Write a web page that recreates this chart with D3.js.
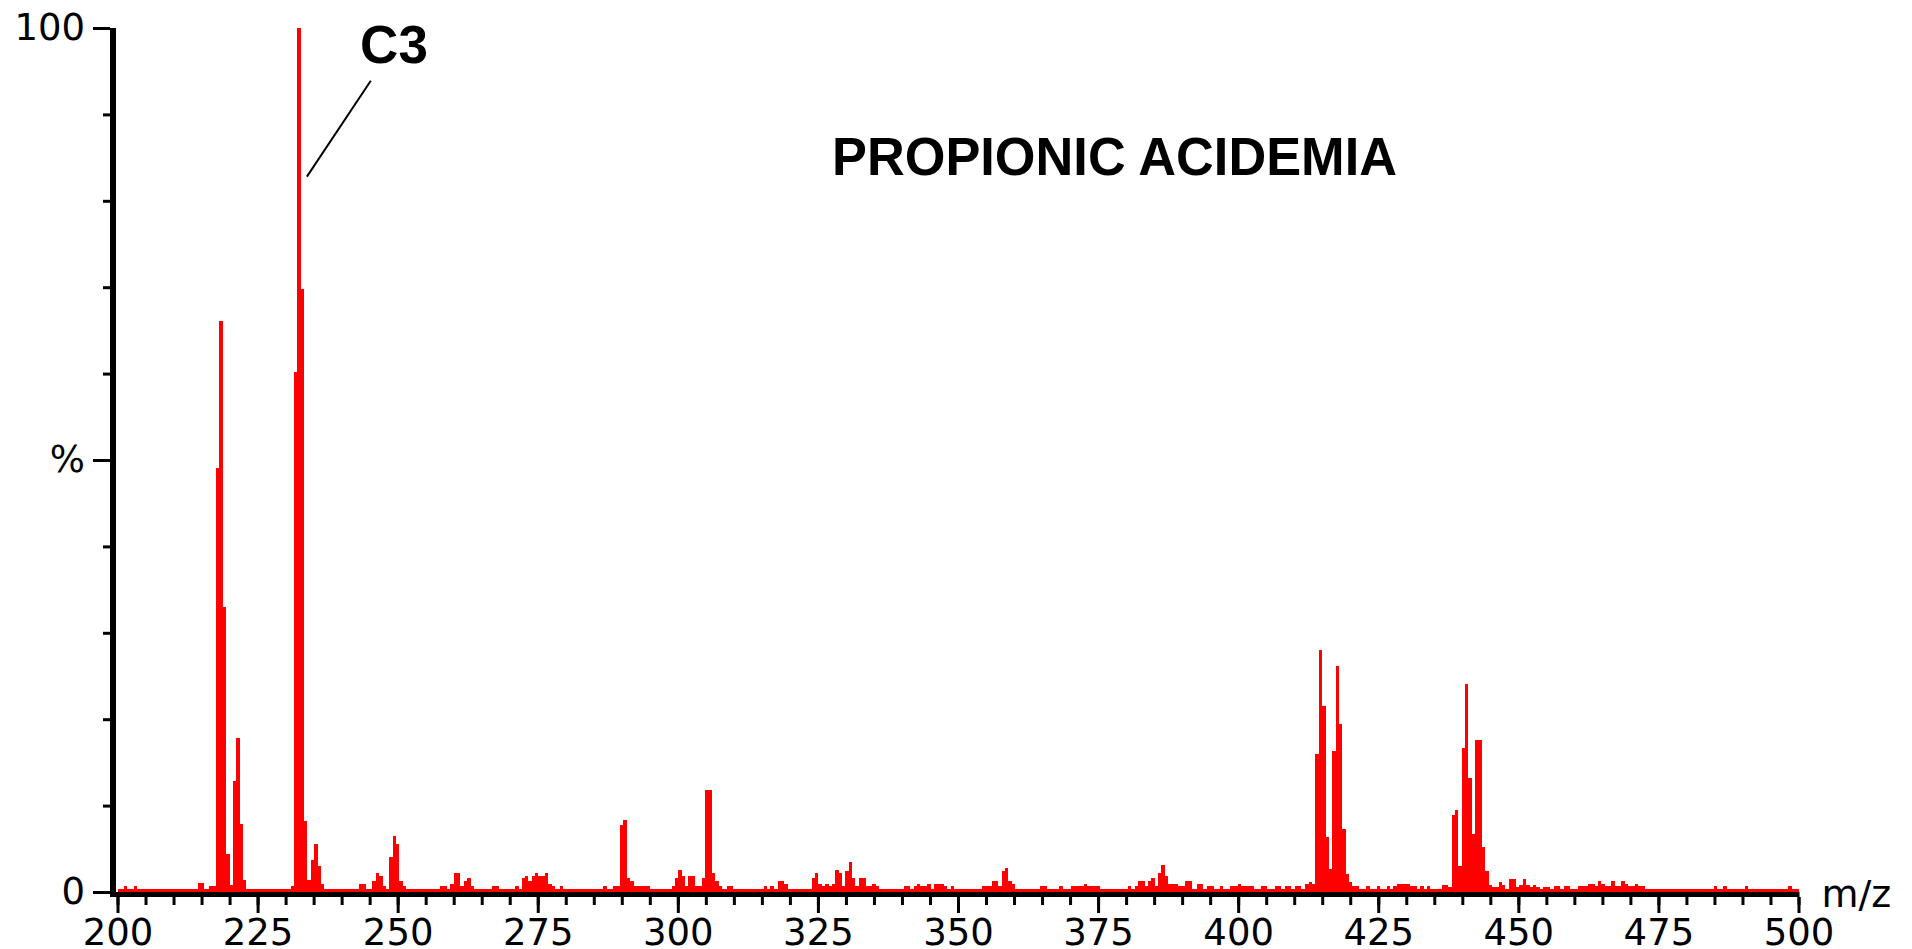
<!DOCTYPE html>
<html>
<head>
<meta charset="utf-8">
<script src="https://cdn.jsdelivr.net/npm/d3@7"></script>
<style>
  body { margin: 0; background: #fff; }
</style>
</head>
<body>
<spectrum-graph></spectrum-graph>
<script>
// Spectrum bins (left edge m/z) and their relative intensity (%)
const mzValues = [
  201.1, 202.9, 214.3, 214.9, 216.4, 217.0, 217.6, 218.2, 218.8, 219.4, 220.0, 220.6, 221.2, 221.8, 222.4,
  230.9, 231.5, 232.1, 232.7, 233.3, 233.9, 234.5, 235.1, 235.7, 236.3,
  243.1, 243.7, 245.5, 246.1, 246.7, 247.3, 248.5, 249.1, 249.7, 250.3, 250.9,
  257.6, 258.2, 259.4, 260.0, 260.6, 261.2, 261.8, 262.4, 263.0,
  266.8, 267.4, 271.0, 272.1, 272.7, 273.3, 273.9, 274.5, 275.1, 275.7, 276.3, 276.9, 277.5, 278.9,
  286.7, 288.5, 289.1, 289.7, 290.3, 290.9, 291.5, 292.1, 292.7, 293.3, 293.9, 294.5,
  298.9, 299.5, 300.1, 300.7, 301.3, 301.9, 302.5, 303.1, 303.7, 304.3, 304.9, 305.5, 306.1, 306.7, 307.3, 308.7, 309.3,
  315.3, 316.5, 317.8, 318.4, 319.0, 323.9, 324.5, 325.1, 325.7, 326.3, 326.9, 327.5, 328.1, 328.7, 329.3, 329.9, 330.5, 331.1, 331.7, 332.3, 332.9, 333.5, 334.1, 334.7, 335.3,
  340.3, 340.9, 342.1, 342.7, 343.3, 343.9, 344.5, 345.7, 346.3, 346.9, 347.5, 348.7, 354.2, 354.8, 355.4, 356.0, 356.6, 357.2, 357.8, 358.4, 359.0, 359.6,
  364.6, 365.2, 368.1, 370.1, 370.7, 371.3, 371.8, 372.4, 373.0, 373.6, 374.2, 374.8,
  380.3, 381.5, 382.1, 382.7, 383.3, 383.9, 384.5, 385.1, 385.7, 386.3, 386.9, 387.5, 388.1, 388.7, 389.3, 389.9, 390.5, 391.1, 392.6, 393.2, 394.4, 395.0, 396.7, 398.6, 399.3, 399.9, 400.5, 401.1, 401.7, 402.3, 404.0, 404.6, 406.5, 407.1, 408.3, 408.9, 410.1, 410.7,
  412.0, 412.6, 413.2, 413.8, 414.4, 415.0, 415.6, 416.2, 416.8, 417.4, 418.0, 418.6, 419.2, 419.8, 420.4, 421.0, 422.9, 424.7, 426.5, 427.7, 428.3, 428.9, 429.5, 430.1, 430.7, 431.3, 432.5, 433.7,
  436.3, 436.9, 437.5, 438.1, 438.7, 439.3, 439.9, 440.5, 441.1, 441.7, 442.3, 442.9, 443.5, 444.1, 444.7, 445.3, 445.9, 446.5, 447.1, 448.4, 449.0, 449.6, 450.2, 450.8, 451.4, 452.0, 452.6, 453.2, 454.4, 455.0,
  456.3, 456.9, 458.1, 458.7, 460.6, 461.2, 461.8, 462.4, 463.0, 463.6, 464.2, 464.8, 465.4, 466.0, 466.6, 467.2, 467.8, 468.4, 469.0, 469.6, 470.2, 470.8, 471.4, 472.0, 484.9, 486.6, 490.4, 498.2
];

const intensityValues = [
  0.7, 0.7, 1.0, 1.0, 0.7, 0.7, 49.1, 66.1, 33.0, 4.4, 0.8, 12.9, 17.8, 7.9, 1.4,
  0.7, 60.2, 100, 69.8, 8.2, 1.4, 3.7, 5.6, 3.0, 0.9,
  0.9, 0.9, 1.3, 2.2, 1.9, 0.7, 4.0, 6.5, 5.5, 1.3, 0.7,
  0.7, 0.7, 0.9, 2.2, 2.2, 0.7, 1.3, 1.6, 0.7,
  0.7, 0.7, 0.7, 1.6, 1.9, 1.3, 1.9, 2.2, 1.9, 1.9, 2.2, 0.9, 0.7, 0.7,
  0.7, 0.7, 0.7, 7.7, 8.3, 1.6, 1.3, 0.7, 0.7, 0.7, 0.7, 0.7,
  0.7, 1.6, 2.5, 1.9, 0.7, 1.9, 1.9, 0.7, 0.7, 1.6, 11.8, 11.8, 2.2, 1.3, 0.7, 0.7, 0.7,
  0.7, 0.7, 1.3, 1.3, 0.9, 1.6, 2.2, 0.9, 0.7, 0.9, 0.7, 0.9, 2.5, 2.2, 0.7, 2.4, 3.5, 1.6, 0.7, 1.6, 1.6, 0.7, 0.7, 0.9, 0.7,
  0.7, 0.7, 0.7, 0.9, 0.7, 0.7, 0.9, 0.9, 0.9, 0.9, 0.7, 0.7, 0.7, 0.7, 0.7, 1.3, 1.3, 0.7, 2.4, 2.8, 1.3, 0.9,
  0.7, 0.7, 0.7, 0.7, 0.7, 0.7, 0.7, 0.9, 0.7, 0.7, 0.7, 0.7,
  0.7, 0.7, 1.3, 1.3, 0.7, 1.3, 1.6, 0.7, 2.2, 3.1, 1.9, 0.9, 0.9, 0.9, 0.7, 0.7, 1.3, 1.3, 0.9, 0.9, 0.7, 0.7, 0.7, 0.7, 0.7, 0.9, 0.7, 0.7, 0.7, 0.7, 0.7, 0.7, 0.7, 0.7, 0.7, 0.7, 0.7, 0.7,
  0.9, 1.2, 0.9, 16.0, 28.0, 21.5, 6.4, 2.7, 16.3, 26.2, 19.4, 7.3, 2.1, 1.1, 0.7, 0.7, 0.7, 0.7, 0.7, 0.7, 0.9, 0.9, 0.9, 0.9, 0.7, 0.7, 0.7, 0.7,
  0.8, 0.8, 0.6, 8.9, 9.5, 3.0, 16.7, 24.1, 13.2, 6.7, 17.6, 17.6, 5.2, 2.4, 0.8, 0.6, 0.6, 1.1, 0.8, 1.5, 1.5, 0.6, 0.8, 1.5, 0.8, 0.6, 0.8, 0.6, 0.6, 0.6,
  0.7, 0.7, 0.7, 0.7, 0.7, 0.7, 0.7, 0.9, 0.9, 0.7, 1.3, 0.9, 0.7, 0.7, 1.3, 0.7, 0.7, 1.3, 0.9, 0.7, 0.7, 0.9, 0.7, 0.7, 0.7, 0.7, 0.7, 0.7
];

const BIN_WIDTH = 0.6;        // m/z covered by one bar
const BASELINE_LEVEL = 0.35;  // noise floor (%) along the whole range

const xTickValues = [200, 225, 250, 275, 300, 325, 350, 375, 400, 425, 450, 475, 500];
const xTickLabels = ["200", "225", "250", "275", "300", "325", "350", "375", "400", "425", "450", "475", "500"];
const yTickValues = [0, 50, 100];
const yTickLabels = ["0", "%", "100"];

const chartTitle = "PROPIONIC ACIDEMIA";
const xAxisTitle = "m/z";
// label text position and pointer line, in data units
const peakLabel = { text: "C3", mz: 243.3, pct: 95.95 };
const peakPointer = { fromMz: 245.2, fromPct: 93.9, toMz: 233.8, toPct: 82.8 };

class SpectrumGraph extends HTMLElement {
  connectedCallback() {
    this.innerHTML = `<div class="spectrum"></div>`;
    const target = d3.select(this).select(".spectrum");
    this.draw(target);
  }

  draw = (target) => {
    const svgConfig = {
      width: 1912,
      height: 949,
      plot: { left: 117.5, right: 1798.5, top: 28, bottom: 892 },
      axisLine: 5,
      yAxisX: 110,
      yAxisWidth: 6,
      color: "#ff0000",
      tickFont: "'DejaVu Sans', sans-serif",
      labelFont: "'Liberation Sans', Arial, sans-serif"
    };

    const bins = mzValues.map((mz, i) => ({ mz: mz, pct: intensityValues[i] }));

    const x = d3.scaleLinear()
      .domain([200, 500])
      .range([svgConfig.plot.left, svgConfig.plot.right]);
    const y = d3.scaleLinear()
      .domain([0, 100])
      .range([svgConfig.plot.bottom, svgConfig.plot.top]);

    // Make the SVG container
    const svg = target
      .append("svg")
      .attr("width", svgConfig.width)
      .attr("height", svgConfig.height)
      .style("display", "block")
      .style("background", "#fff");

    // -- noise floor --
    svg.append("rect")
      .attr("x", x(200))
      .attr("y", y(BASELINE_LEVEL))
      .attr("width", x(500) - x(200))
      .attr("height", y(0) - y(BASELINE_LEVEL))
      .attr("fill", svgConfig.color)
      .attr("shape-rendering", "crispEdges");

    // -- Add the bars --
    svg.selectAll(".bar")
      .data(bins)
      .enter()
      .append("rect")
      .attr("class", "bar")
      .attr("x", (d) => x(d.mz))
      .attr("y", (d) => y(d.pct))
      .attr("width", (d) => x(d.mz + BIN_WIDTH) - x(d.mz))
      .attr("height", (d) => y(0) - y(d.pct))
      .attr("fill", svgConfig.color)
      .attr("shape-rendering", "crispEdges");

    // -- axis lines (thick, like the original instrument plot) --
    const axisBottomY = y(0) + svgConfig.axisLine;
    svg.append("rect")
      .attr("x", svgConfig.yAxisX)
      .attr("y", y(0))
      .attr("width", x(500) + 1 - svgConfig.yAxisX)
      .attr("height", svgConfig.axisLine)
      .attr("fill", "#000");
    svg.append("rect")
      .attr("x", svgConfig.yAxisX)
      .attr("y", y(100))
      .attr("width", svgConfig.yAxisWidth)
      .attr("height", axisBottomY - y(100))
      .attr("fill", "#000");

    // x axis: minor ticks every 5, labelled ticks every 25
    svg.append("g")
      .attr("transform", `translate(0, ${axisBottomY})`)
      .call(d3.axisBottom(x).tickValues(d3.range(200, 501, 5)).tickSize(8).tickFormat(""))
      .call((g) => this.styleAxis(g, svgConfig));

    svg.append("g")
      .attr("transform", `translate(0, ${axisBottomY})`)
      .call(d3.axisBottom(x).tickValues(xTickValues).tickSize(16).tickPadding(6)
        .tickFormat((d, i) => xTickLabels[i]))
      .call((g) => this.styleAxis(g, svgConfig));

    // y axis: minor ticks every 10 %, labels at 0 / 50 / 100
    svg.append("g")
      .attr("transform", `translate(${svgConfig.yAxisX}, 0)`)
      .call(d3.axisLeft(y).tickValues(d3.range(0, 101, 10)).tickSize(7).tickFormat(""))
      .call((g) => this.styleAxis(g, svgConfig));

    svg.append("g")
      .attr("transform", `translate(${svgConfig.yAxisX}, 0)`)
      .call(d3.axisLeft(y).tickValues(yTickValues).tickSize(17).tickPadding(8)
        .tickFormat((d, i) => yTickLabels[i]))
      .call((g) => this.styleAxis(g, svgConfig));

    // axis title
    svg.append("text")
      .attr("x", x(500) + 23)
      .attr("y", y(0) + 15)
      .attr("font-family", svgConfig.tickFont)
      .attr("font-size", 38)
      .attr("fill", "#000")
      .text(xAxisTitle);

    // -- title & peak annotation --
    svg.append("text")
      .attr("x", 832)
      .attr("y", 175)
      .attr("font-family", svgConfig.labelFont)
      .attr("font-weight", "bold")
      .attr("font-size", 54)
      .attr("textLength", 565)
      .attr("lengthAdjust", "spacingAndGlyphs")
      .attr("fill", "#000")
      .text(chartTitle);

    svg.append("text")
      .attr("x", x(peakLabel.mz))
      .attr("y", y(peakLabel.pct))
      .attr("font-family", svgConfig.labelFont)
      .attr("font-weight", "bold")
      .attr("font-size", 53)
      .attr("fill", "#000")
      .text(peakLabel.text);

    svg.append("line")
      .attr("x1", x(peakPointer.fromMz))
      .attr("y1", y(peakPointer.fromPct))
      .attr("x2", x(peakPointer.toMz))
      .attr("y2", y(peakPointer.toPct))
      .style("stroke", "#000")
      .style("stroke-width", 2);
  };

  styleAxis = (g, svgConfig) => {
    g.select(".domain").remove();
    g.selectAll(".tick line")
      .attr("stroke", "#000")
      .attr("stroke-width", 3);
    g.selectAll(".tick text")
      .attr("font-family", svgConfig.tickFont)
      .attr("font-size", 37)
      .attr("fill", "#000");
  };
}

customElements.define("spectrum-graph", SpectrumGraph);
</script>
</body>
</html>
